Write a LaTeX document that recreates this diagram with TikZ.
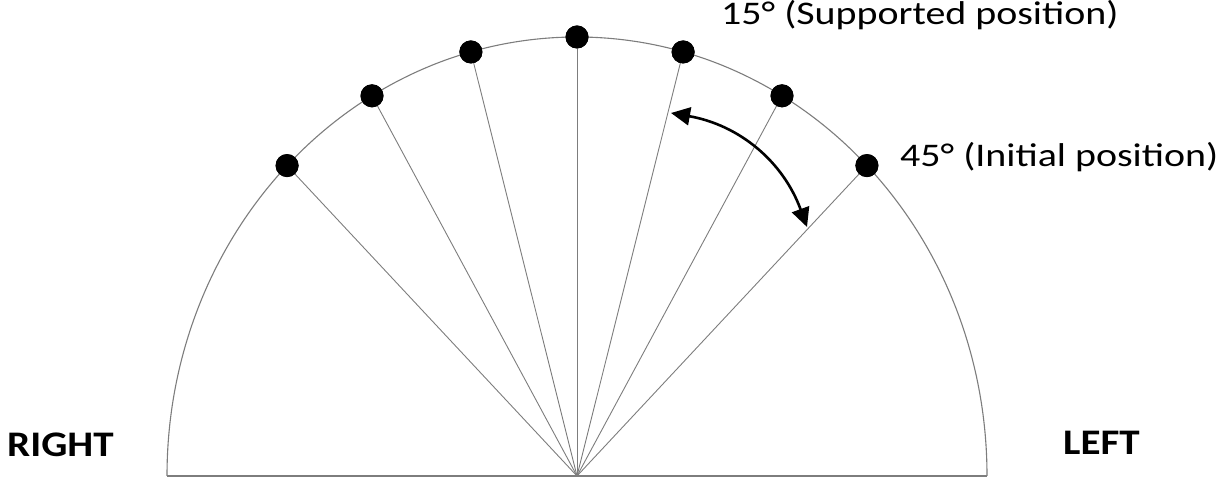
\documentclass[tikz,border=0pt]{standalone}
\usepackage{graphicx}
\usepackage{fontspec}
\setmainfont{Carlito}
\usetikzlibrary{arrows.meta}
\definecolor{rim}{RGB}{125,125,125}
\newcommand{\widetext}[2]{\scalebox{#1}[1]{#2}}
\begin{document}
\begin{tikzpicture}[x=1pt,y=1pt,
  rim/.style={draw=rim,line width=1.1pt},
  spoke/.style={draw=rim,line width=0.9pt},
  dot/.style={circle,fill=black,minimum size=23pt,inner sep=0pt},
  lbl/.style={anchor=base west,inner sep=0pt,font=\fontsize{33}{33}\selectfont},
  side/.style={anchor=base west,inner sep=0pt,font=\fontsize{36}{36}\selectfont\bfseries},
  swing/.style={{Triangle[length=19pt,width=18pt]}-{Triangle[length=19pt,width=18pt]},line width=2.6pt}]
\useasboundingbox (0,0) rectangle (1231,478);
% hinge point of the half disc
\coordinate (c) at (577,2);
% rim and base
\draw[rim] (c) ++(-410,0) -- ++(820,0);
\draw[rim] (c) ++(410,0) arc[start angle=0,end angle=180,x radius=410pt,y radius=439pt];
% positions every 15 degrees from 45 to 135
\foreach \a in {45,60,75,90,105,120,135}{
  \node[dot] (p\a) at ({577+410*cos(\a)},{2+439*sin(\a)}) {};
  \draw[spoke] (c) -- (p\a.center);
  \node[dot] at (p\a) {};
}
% range of motion
\coordinate (s1) at (671,365);
\coordinate (s2) at (807,251);
\draw[swing] (s1) to[bend left=30] (s2);
% labels
\node[lbl] (t15) at (721,453) {\widetext{1.21}{15° (Supported position)}};
\node[lbl] (t45) at (900,311) {\widetext{1.21}{45° (Initial position)}};
\node[side] (r) at (7,21) {\widetext{1.14}{RIGHT}};
\node[side] (l) at (1063,23) {\widetext{1.14}{LEFT}};
\end{tikzpicture}
\end{document}
